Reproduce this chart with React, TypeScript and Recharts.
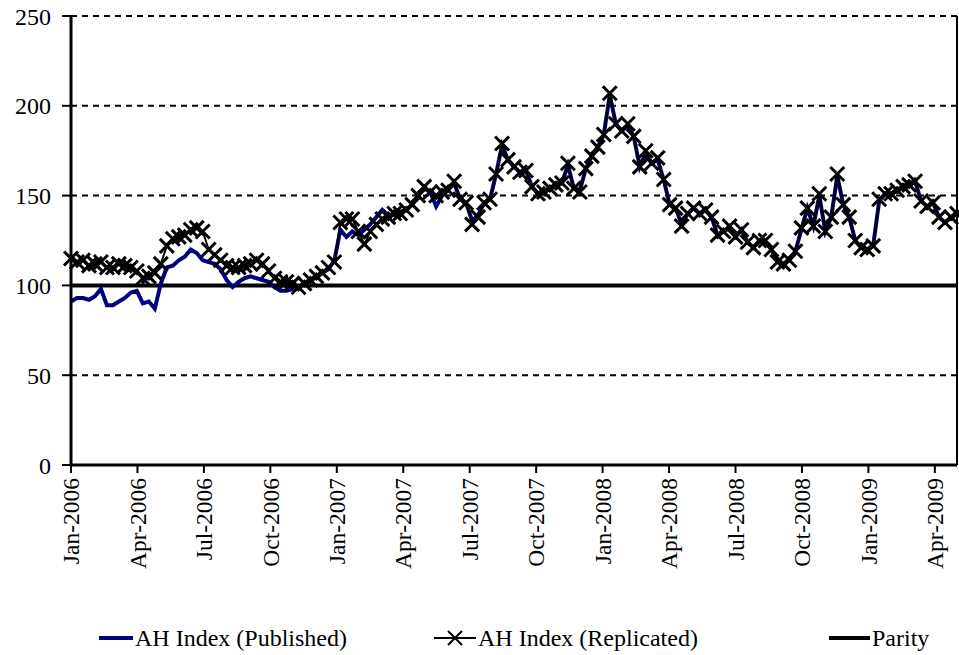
import { LineChart, Line, XAxis, YAxis, CartesianGrid, ReferenceLine } from "recharts"

const tickLabels = [
  "Jan-2006", "Apr-2006", "Jul-2006", "Oct-2006",
  "Jan-2007", "Apr-2007", "Jul-2007", "Oct-2007",
  "Jan-2008", "Apr-2008", "Jul-2008", "Oct-2008",
  "Jan-2009", "Apr-2009",
]

// weekly-ish readings, Jan-2006 .. May-2009
const published = [
  91, 93, 93, 92, 94, 98, 89, 89, 91, 93, 96, 97, 90, 91, 87, 101, 110, 111, 114, 116,
  120, 118, 114, 113, 112, 109, 103, 99, 102, 104, 105, 104, 103, 102, 99, 97, 97, 98, 99, 101,
  103, 105, 107, 109, 114, 131, 127, 130, 128, 131, 134, 138, 142, 139, 139, 141, 142, 145, 150, 154,
  152, 144, 150, 153, 157, 148, 146, 136, 139, 146, 148, 162, 178, 170, 166, 163, 164, 155, 151, 152,
  154, 156, 157, 167, 154, 153, 165, 172, 177, 184, 206, 190, 186, 189, 183, 166, 174, 168, 170, 159,
  145, 143, 134, 140, 143, 140, 142, 138, 128, 130, 132, 127, 131, 124, 121, 125, 124, 120, 113, 112,
  114, 119, 131, 143, 133, 150, 130, 138, 161, 145, 138, 125, 121, 120, 122, 147, 151, 151, 153, 155,
  156, 158, 147, 144, 146, 138, 135, 138, 140,
]

const replicated = [
  115, 113, 114, 111, 112, 113, 110, 110, 112, 111, 110, 108, 104, 105, 107, 112, 122, 126, 127, 128,
  131, 132, 130, 120, 117, 114, 111, 110, 110, 111, 112, 114, 112, 108, 104, 102, 102, 101, 99, 101,
  103, 105, 107, 110, 113, 135, 137, 137, 130, 123, 130, 134, 137, 138, 140, 140, 142, 145, 150, 155,
  152, 150, 152, 153, 158, 148, 146, 134, 138, 146, 148, 162, 179, 170, 166, 163, 164, 155, 151, 152,
  154, 156, 157, 168, 154, 152, 165, 172, 177, 184, 207, 190, 186, 190, 183, 166, 175, 168, 171, 159,
  145, 143, 133, 140, 143, 140, 142, 138, 128, 130, 133, 127, 131, 124, 121, 125, 125, 120, 113, 112,
  114, 119, 132, 143, 133, 151, 130, 138, 162, 145, 138, 125, 121, 120, 122, 148, 151, 151, 153, 155,
  156, 158, 147, 144, 146, 138, 135, 138, 140,
]

const yTicks = [0, 50, 100, 150, 200, 250]
const parity = 100
const spanMonths = 40

const data = published.map((v, i) => ({
  month: (i * spanMonths) / (published.length - 1),
  published: v,
  replicated: replicated[i],
}))
const quarterTicks = tickLabels.map((_, i) => i * 3)

const font = '"Liberation Serif", "Times New Roman", serif'

function MonthTick(props: any) {
  const { x, y, payload } = props
  const label = tickLabels[Math.round(payload.value / 3)]
  const ty = y + 3
  return (
    <text
      x={x}
      y={ty}
      transform={`rotate(-90, ${x}, ${ty})`}
      textAnchor="end"
      dy="0.35em"
      fontSize={23.5}
      fontFamily={font}
      fill="#000"
    >
      {label}
    </text>
  )
}

function CrossDot(props: any) {
  const { cx, cy } = props
  if (cx == null || cy == null) return null
  const s = 7
  return (
    <path
      d={`M${cx - s},${cy - s}L${cx + s},${cy + s}M${cx - s},${cy + s}L${cx + s},${cy - s}`}
      stroke="#000"
      strokeWidth={3}
      fill="none"
    />
  )
}

function LegendItem({ left, icon, label }: { left: number; icon: any; label: string }) {
  return (
    <div style={{ position: "absolute", left, top: 0, height: 30, display: "flex", alignItems: "center" }}>
      {icon}
      <span style={{ marginLeft: 2, whiteSpace: "nowrap" }}>{label}</span>
    </div>
  )
}

export default function App() {
  return (
    <div style={{ position: "absolute", left: 0, top: 0, width: 959, height: 655, background: "#fff" }}>
      <LineChart width={959} height={655} data={data} margin={{ top: 16, right: 2, left: 10, bottom: 90 }}>
        <CartesianGrid vertical={false} stroke="#000" strokeWidth={2} strokeDasharray="6 5" />
        <XAxis
          type="number"
          dataKey="month"
          domain={[0, spanMonths]}
          ticks={quarterTicks}
          interval={0}
          height={100}
          tickSize={8}
          tick={<MonthTick />}
          axisLine={{ stroke: "#000", strokeWidth: 3 }}
          tickLine={{ stroke: "#000", strokeWidth: 2 }}
        />
        <YAxis
          domain={[0, 250]}
          ticks={yTicks}
          width={61}
          tickSize={9}
          tickMargin={11}
          tick={{ fontSize: 24, fill: "#000", fontFamily: font }}
          axisLine={{ stroke: "#000", strokeWidth: 3 }}
          tickLine={{ stroke: "#000", strokeWidth: 2 }}
        />
        <ReferenceLine x={spanMonths} stroke="#000" strokeWidth={2} />
        <ReferenceLine y={parity} stroke="#000" strokeWidth={4} />
        <Line
          dataKey="published"
          stroke="#000080"
          strokeWidth={4}
          dot={false}
          isAnimationActive={false}
        />
        <Line
          dataKey="replicated"
          stroke="#000"
          strokeWidth={2}
          dot={<CrossDot />}
          isAnimationActive={false}
        />
      </LineChart>
      <div style={{ position: "absolute", left: 0, top: 623, width: 959, height: 30, fontFamily: font, fontSize: 24, color: "#000" }}>
        <LegendItem
          left={99}
          label="AH Index (Published)"
          icon={<svg width={34} height={10}><line x1={0} y1={5} x2={34} y2={5} stroke="#000080" strokeWidth={4} /></svg>}
        />
        <LegendItem
          left={434}
          label="AH Index (Replicated)"
          icon={
            <svg width={42} height={16}>
              <line x1={0} y1={8} x2={42} y2={8} stroke="#000" strokeWidth={2} />
              <path d="M14,1L28,15M14,15L28,1" stroke="#000" strokeWidth={2} />
            </svg>
          }
        />
        <LegendItem
          left={829}
          label="Parity"
          icon={<svg width={41} height={10}><line x1={0} y1={5} x2={41} y2={5} stroke="#000" strokeWidth={4} /></svg>}
        />
      </div>
    </div>
  )
}
